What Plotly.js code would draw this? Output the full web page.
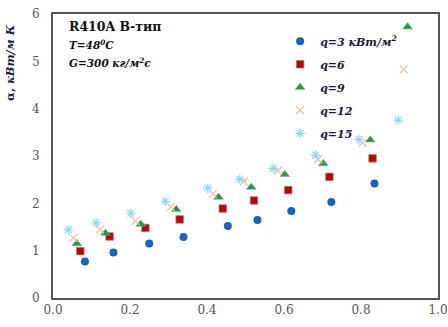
<!DOCTYPE html>
<html><head><meta charset="utf-8">
<script src="https://cdn.plot.ly/plotly-3.0.1.min.js"></script>
<style>body{margin:0;background:#fff}#c{width:448px;height:327px}</style>
</head><body><div id="c"></div>
<script>
const seriesNames = ["q=3 кВт/м<sup>2</sup>", "q=6", "q=9", "q=12", "q=15"];
const x_q3 = [0.083, 0.157, 0.250, 0.339, 0.454, 0.531, 0.619, 0.723, 0.835];
const y_q3 = [0.77, 0.96, 1.15, 1.29, 1.52, 1.65, 1.84, 2.03, 2.42];
const x_q6 = [0.071, 0.147, 0.240, 0.329, 0.441, 0.522, 0.611, 0.718, 0.830];
const y_q6 = [0.99, 1.30, 1.48, 1.66, 1.89, 2.06, 2.28, 2.56, 2.95];
const x_q9 = [0.062, 0.136, 0.228, 0.320, 0.430, 0.515, 0.602, 0.702, 0.824, 0.921];
const y_q9 = [1.15, 1.37, 1.56, 1.87, 2.13, 2.34, 2.61, 2.84, 3.34, 5.73];
const x_q12 = [0.053, 0.122, 0.214, 0.306, 0.415, 0.496, 0.584, 0.689, 0.804, 0.911];
const y_q12 = [1.27, 1.45, 1.63, 1.92, 2.20, 2.46, 2.69, 2.93, 3.28, 4.83];
const x_q15 = [0.040, 0.112, 0.202, 0.292, 0.402, 0.485, 0.572, 0.682, 0.795, 0.897];
const y_q15 = [1.44, 1.59, 1.79, 2.04, 2.32, 2.51, 2.74, 3.02, 3.35, 3.76];
const xTicks = [0, 0.2, 0.4, 0.6, 0.8, 1.0];
const yTicks = [0, 1, 2, 3, 4, 5, 6];

const serif = "DejaVu Serif";
const traces = [
  {x: x_q3, y: y_q3, name: seriesNames[0], legendgroup: "a", mode: "markers", type: "scatter",
   marker: {symbol: "circle", size: 8, color: "#1565c0", line: {width: 0}}},
  {x: x_q6, y: y_q6, name: seriesNames[1], legendgroup: "b", mode: "markers", type: "scatter",
   marker: {symbol: "square", size: 7.5, color: "#c00000", line: {width: 0.8, color: "#888"}}},
  {x: x_q9, y: y_q9, name: seriesNames[2], legendgroup: "c", mode: "markers", type: "scatter",
   marker: {symbol: "triangle-up", size: 8.5, color: "#1e9e46", line: {width: 0.5, color: "#999"}}},
  {x: x_q12, y: y_q12, name: seriesNames[3], legendgroup: "d", mode: "markers", type: "scatter",
   marker: {symbol: "x-thin-open", size: 8, color: "#f3c2a2", line: {width: 1.3, color: "#f3c2a2"}}},
  {x: x_q15, y: y_q15, name: seriesNames[4], legendgroup: "e", mode: "markers", type: "scatter",
   marker: {symbol: "asterisk-open", size: 8, color: "#8fd6f5", line: {width: 1.2, color: "#8fd6f5"}}}
];
const layout = {
  width: 448, height: 327,
  font: {family: serif},
  margin: {l: 53, r: 10, t: 14, b: 29},
  paper_bgcolor: "#fff", plot_bgcolor: "#fff",
  showlegend: true,
  legend: {x: 0.59, y: 0.955, xanchor: "left", yanchor: "top", bgcolor: "rgba(0,0,0,0)",
    itemwidth: 30, tracegroupgap: 4,
    font: {family: serif, size: 11, color: "#1a1a40", weight: "bold", style: "italic"}},
  xaxis: {range: [0, 1], tickvals: xTicks, tickformat: ".1f", showgrid: false, zeroline: false,
    showline: true, linecolor: "#555", linewidth: 2, mirror: true, ticks: "",
    tickfont: {family: serif, size: 12, color: "#555"}},
  yaxis: {range: [0, 6], tickvals: yTicks, showgrid: false, zeroline: false,
    showline: true, linecolor: "#555", linewidth: 2, mirror: true, ticks: "",
    ticklabelstandoff: 9,
    tickfont: {family: serif, size: 12, color: "#555"}},
  annotations: [
    {xref: "paper", yref: "paper", x: 0.037, y: 0.955, xanchor: "left", yanchor: "middle",
     text: "R410A В-тип", showarrow: false, font: {family: serif, size: 12.5, color: "#111", weight: "bold"}},
    {xref: "paper", yref: "paper", x: 0.037, y: 0.893, xanchor: "left", yanchor: "middle",
     text: "T=48<sup>0</sup>C", showarrow: false, font: {family: serif, size: 10.5, color: "#111", weight: "bold", style: "italic"}},
    {xref: "paper", yref: "paper", x: 0.037, y: 0.83, xanchor: "left", yanchor: "middle",
     text: "G=300 кг/м<sup>2</sup>с", showarrow: false, font: {family: serif, size: 10.5, color: "#111", weight: "bold", style: "italic"}},
    {xref: "paper", yref: "paper", x: -0.11, y: 0.83, xanchor: "center", yanchor: "middle", textangle: -90,
     text: "<b>α</b>, <i>кВт/м К</i>", showarrow: false, font: {family: serif, size: 11.5, color: "#1a1a40", weight: "bold"}},
    {xref: "paper", yref: "paper", x: 0.915, y: -0.085, xanchor: "center", yanchor: "top",
     text: "<i>x</i>", showarrow: false, font: {family: serif, size: 12, color: "#111", weight: "bold"}}
  ]
};
Plotly.newPlot("c", traces, layout, {displayModeBar: false, staticPlot: true});
</script></body></html>
